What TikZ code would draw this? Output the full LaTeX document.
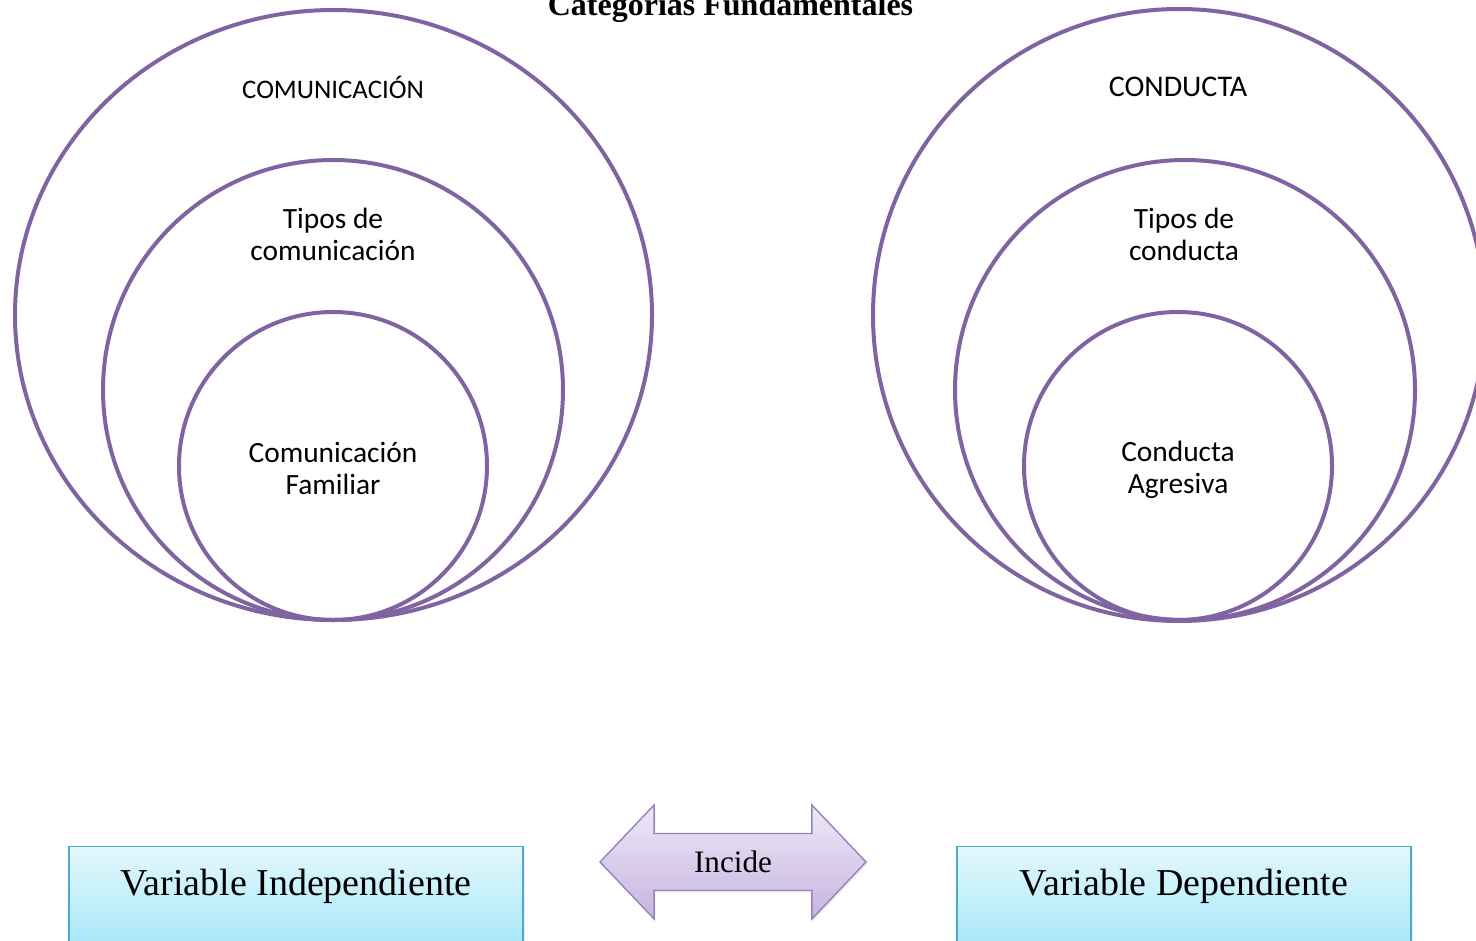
\documentclass[tikz,border=0pt]{standalone}
\usepackage{fontspec}
\setmainfont{Liberation Serif}
\newfontfamily\carlito{Carlito}
\usetikzlibrary{shapes.geometric,shapes.arrows,shadows}
\definecolor{ringpurple}{HTML}{8064A2}
\definecolor{boxline}{HTML}{4BACC6}
\definecolor{boxtop}{HTML}{E4F8FD}
\definecolor{boxbottom}{HTML}{A4E6F7}
\definecolor{arrowline}{HTML}{9A80C0}
\definecolor{arrowtop}{HTML}{EEE9F7}
\definecolor{arrowbottom}{HTML}{C6B3E0}
\begin{document}
\begin{tikzpicture}
[
    x=0.5pt, y=-0.5pt,
    ring/.style={draw=ringpurple, line width=2pt, ellipse, inner sep=0pt},
    ringtext/.style={font=\carlito\fontsize{14.7}{16}\selectfont, align=center},
    varbox/.style={draw=boxline, line width=0.7pt, top color=boxtop, bottom color=boxbottom,
        minimum width=227pt, minimum height=52pt, anchor=north, inner sep=0pt,
        drop shadow={opacity=0.12, shadow xshift=0.8pt, shadow yshift=-0.8pt}},
    vartext/.style={font=\fontsize{19}{22}\selectfont, anchor=base},
]
\useasboundingbox (0,0) rectangle (1476,941);

% titulo
\node[font=\bfseries\fontsize{16}{18}\selectfont, anchor=base] (titulo) at (730.5,15.5) {Categorías Fundamentales};

% variable independiente
\node[ring, minimum width=318.5pt, minimum height=305pt] (comOut) at (333.5,315) {};
\node[ring, minimum size=230pt] (comMid) at (333,390) {};
\node[ring, minimum size=154pt] (comIn) at (333,466) {};
\node[ringtext, font=\carlito\fontsize{13.4}{16}\selectfont] (comA) at (333,87) {COMUNICACIÓN};
\node[ringtext] (comB) at (333,234) {Tipos de\\comunicación};
\node[ringtext] (comC) at (333,468) {Comunicación\\Familiar};

% variable dependiente
\node[ring, minimum size=306pt] (conOut) at (1179,315) {};
\node[ring, minimum size=230pt] (conMid) at (1185,390) {};
\node[ring, minimum size=154pt] (conIn) at (1178,466) {};
\node[ringtext, font=\carlito\fontsize{15}{16}\selectfont] (conA) at (1178,87) {CONDUCTA};
\node[ringtext] (conB) at (1184,234) {Tipos de\\conducta};
\node[ringtext] (conC) at (1178,470) {Conducta\\Agresiva};

% recuadros
\node[varbox] (varInd) at (296,846) {};
\node[varbox] (varDep) at (1184,846) {};
\node[vartext] (varIndText) at (296,895) {Variable Independiente};
\node[vartext] (varDepText) at (1184,895) {Variable Dependiente};

% flecha
\node[double arrow, draw=arrowline, line width=0.7pt, top color=arrowtop, bottom color=arrowbottom,
    minimum height=133pt, double arrow head extend=14.25pt,
    double arrow tip angle=93, inner xsep=2pt, inner ysep=8.4pt, font=\fontsize{15.6}{18}\selectfont,
    drop shadow={opacity=0.12, shadow xshift=0.8pt, shadow yshift=-1pt}] (incide) at (733,862) {Incide};
\end{tikzpicture}
\end{document}
